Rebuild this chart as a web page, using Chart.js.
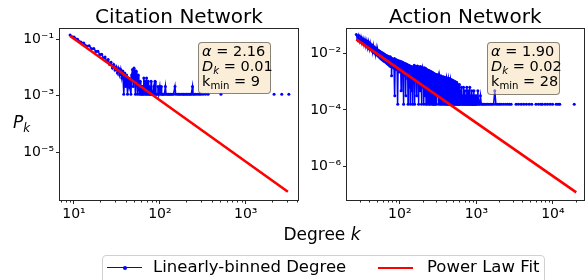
<!DOCTYPE html>
<html><head><meta charset="utf-8">
<script src="https://cdn.jsdelivr.net/npm/chart.js@4/dist/chart.umd.min.js"></script>
<style>
html,body{margin:0;padding:0;background:#fff;}
body{width:585px;height:280px;position:relative;overflow:hidden;font-family:"DejaVu Sans",sans-serif;color:#000;}
canvas{position:absolute;top:0;}
#c1{left:0;} #c2{left:300px;}
.box{position:absolute;background:rgba(245,222,179,0.5);border:1px solid rgba(0,0,0,0.45);border-radius:4px;font-size:14.5px;line-height:15px;padding:1px 3px;box-sizing:border-box;white-space:nowrap;}
.sb{font-size:70%;position:relative;top:0.3em;line-height:0;}
.lbl{position:absolute;white-space:nowrap;}
#legend{position:absolute;left:102px;top:255px;width:443px;height:40px;border:1px solid #d0d0d0;border-radius:4px;box-sizing:border-box;background:#fff;}
.hl{position:absolute;height:0;}
</style></head>
<body>
<canvas id="c1" width="300" height="225"></canvas>
<canvas id="c2" width="285" height="225"></canvas>
<div class="lbl" style="left:13px;top:112px;font-size:17px;line-height:20px;"><i>P</i><span class="sb"><i>k</i></span></div>
<div class="lbl" style="left:222px;width:200px;text-align:center;top:224px;font-size:17px;line-height:20px;">Degree <i>k</i></div>
<div class="box" style="left:198px;top:42px;width:73px;height:52px;">
<div><i>α</i> = 2.16</div>
<div><i>D</i><span class="sb"><i>k</i></span> = 0.01</div>
<div>k<span class="sb">min</span> = 9</div>
</div>
<div class="box" style="left:487px;top:42px;width:73px;height:53px;">
<div><i>α</i> = 1.90</div>
<div><i>D</i><span class="sb"><i>k</i></span> = 0.02</div>
<div>k<span class="sb">min</span> = 28</div>
</div>
<div id="legend"></div>
<div class="hl" style="left:107px;top:267px;width:35px;border-top:1.5px solid #0000ff;"></div>
<div style="position:absolute;left:123px;top:266px;width:4px;height:4px;border-radius:2px;background:#0000ff;"></div>
<div class="lbl" style="left:153px;top:257px;font-size:16.5px;line-height:20px;">Linearly-binned Degree</div>
<div class="hl" style="left:378px;top:267px;width:35px;border-top:2.6px solid #ff0000;"></div>
<div class="lbl" style="left:427px;top:257px;font-size:16.5px;line-height:20px;">Power Law Fit</div>
<script>
// ---- Citation Network data ----
const citK = [9,10,11,12,13,14,15,16,17,18,
19,20,21,22,23,24,25,26,27,28,
29,30,31,32,33,34,35,36,37,38,
39,40,41,42,43,44,45,46,47,48,
49,50,51,52,53,54,55,56,57,58,
59,60,61,62,63,64,65,66,67,68,
69,70,71,72,73,74,75,76,78,79,
80,82,83,85,86,88,90,91,93,95,
97,100,102,104,105,108,110,113,116,118,
121,125,128,132,135,140,144,150,153,160,
166,171,178,185,190,197,204,211,218,226,
232,240,243,251,262,275,288,300,318,340,
365,400,515,600,2140,2400,2630,2900,3180];
const citP = [0.138,0.118,0.098,0.078,0.072,0.056,0.058,0.045,0.046,0.036,
0.037,0.028,0.029,0.021,0.023,0.016,0.019,0.0125,0.0150,0.0095,
0.0125,0.0080,0.0105,0.0063,0.0092,0.0053,0.0084,0.0042,0.0074,0.0011,
0.0063,0.0021,0.0053,0.0011,0.0042,0.0021,0.0032,0.0011,0.0053,0.0084,
0.0021,0.0095,0.0032,0.0011,0.0074,0.0042,0.0011,0.0053,0.0021,0.0011,
0.0032,0.0011,0.0021,0.0011,0.0021,0.0011,0.0042,0.0011,0.0032,0.0021,
0.0011,0.0042,0.0011,0.0021,0.0032,0.0011,0.0021,0.0011,0.0011,0.0032,
0.0011,0.0011,0.0011,0.0021,0.0011,0.0032,0.0011,0.0011,0.0011,0.0021,
0.0011,0.0021,0.0011,0.0021,0.0011,0.0011,0.0011,0.0011,0.0021,0.0011,
0.0011,0.0011,0.0011,0.0011,0.0011,0.0011,0.0011,0.0021,0.0011,0.0011,
0.0011,0.0011,0.0011,0.0011,0.0011,0.0011,0.0011,0.0011,0.0011,0.0011,
0.0011,0.0021,0.0011,0.0011,0.0011,0.0011,0.0011,0.0011,0.0011,0.0011,
0.0011,null,0.0011,null,0.0011,null,0.0011,null,0.0011];
const citFitK = [9, 3100];
const citFitP = [0.128, 3.9e-7];

// ---- Action Network data (split by degree range) ----
const actK1 = [27,28,29,30,31,32,33,34,35,36,
37,38,39,40,41,42,43,44,45,46,
47,48,49,50,51,52,53,54,55,56,
57,58,59,60,61,62,63,64,65,66,
67,68,69,70,71,72,73,74,75,76,
77,78,79,80];
const actP1 = [0.046,0.030,0.043,0.026,0.038,0.023,0.033,0.020,0.030,0.018,
0.027,0.016,0.025,0.0145,0.022,0.013,0.020,0.0115,0.018,0.0105,
0.016,0.0095,0.0148,0.0088,0.0135,0.0080,0.0125,0.0072,0.0118,0.0066,
0.0110,0.0061,0.0104,0.0057,0.0098,0.0053,0.0093,0.0050,0.0088,0.0047,
0.0084,0.0044,0.0080,0.0041,0.0077,0.0039,0.0074,0.0036,0.0076,0.0034,
0.0068,0.0016,0.0066,0.0032];

const actK2 = [81,82,83,84,85,86,87,88,89,90,
91,92,93,94,95,96,97,98,99,100,
101,102,103,104,105,106,107,108,109,110,
111,112,113,114,115,116,117,118,119,120,
121,122,123,124,125,126,127,128,129,130,
131,132,133,134,135,136,137,138,139,140,
141,142,143,144,145,146,147,148,149,150];
const actP2 = [0.0062,0.0041,0.0058,0.0030,0.0066,0.00032,0.0050,0.0036,0.0061,0.0027,
0.0054,0.0040,0.0057,0.00016,0.0047,0.0030,0.0055,0.0022,0.0049,0.0035,
0.0052,0.0026,0.0045,0.00048,0.0050,0.0032,0.0043,0.0019,0.0048,0.0029,
0.0041,0.00016,0.0046,0.0024,0.0039,0.0033,0.0044,0.0016,0.0037,0.00032,
0.0042,0.0027,0.0035,0.0020,0.0040,0.0013,0.0034,0.00016,0.0038,0.0025,
0.0032,0.0017,0.0037,0.00064,0.0031,0.0022,0.0035,0.00016,0.0030,0.0019,
0.0034,0.0011,0.0029,0.00048,0.0033,0.0021,0.0028,0.00016,0.0032,0.0016];

const actK3 = [152,154,156,158,160,162,164,166,168,170,
172,174,176,178,180,182,184,186,188,190,
192,194,196,198,200,202,204,206,208,210,
212,214,216,218,220,222,224,226,228,230,
232,234,236,238,240,242,244,246,248,250,
252,254,256,258,260,262,264,266,268,270,
272,274,276,278,280,282,284,286,288,290,
292,294,296,298,300];
const actP3 = [0.0027,0.0038,0.00016,0.0031,0.0014,0.0035,0.0022,0.00032,0.0030,0.0036,
0.0011,0.0026,0.00016,0.0033,0.0019,0.0029,0.00048,0.0034,0.0024,0.0013,
0.00016,0.0028,0.0032,0.0017,0.00064,0.0030,0.0022,0.00016,0.0027,0.0031,
0.0012,0.00032,0.0025,0.0029,0.00016,0.0020,0.0027,0.00096,0.00016,0.0024,
0.0026,0.0014,0.00048,0.0023,0.0025,0.00016,0.0018,0.0024,0.0008,0.00016,
0.0021,0.0023,0.0011,0.00032,0.0020,0.0022,0.00016,0.0016,0.0021,0.00064,
0.00016,0.0019,0.0020,0.0010,0.00016,0.0018,0.0019,0.00048,0.0014,0.00016,
0.0017,0.0018,0.0008,0.00016,0.0016];

const actK4 = [304,308,312,316,320,324,328,332,336,340,
344,348,352,356,360,364,368,372,376,380,
384,388,392,396,400,404,408,412,416,420,
424,428,432,436,440,444,448,452,456,460,
464,468,472,476,480,484,488,492,496,500,
504,508,512,516,520,524,528,532,536,540,
544,548,552,556,560,564,568,572,576,580,
584,588,592,596,600];
const actP4 = [0.0018,0.00032,0.0015,0.0017,0.00016,0.0012,0.0016,0.00064,0.00016,0.0015,
0.0016,0.00016,0.0011,0.0015,0.00048,0.00016,0.0014,0.0015,0.00096,0.00016,
0.0013,0.0014,0.00032,0.00016,0.0012,0.0014,0.0008,0.00016,0.0013,0.00016,
0.0011,0.0013,0.00048,0.00016,0.0012,0.0013,0.00016,0.00096,0.0012,0.00032,
0.00016,0.0011,0.0012,0.00016,0.0008,0.0011,0.00048,0.00016,0.0010,0.0011,
0.00016,0.00064,0.0010,0.00032,0.00016,0.00096,0.0010,0.00016,0.00048,0.00096,
0.00016,0.0008,0.00096,0.00016,0.00032,0.00064,0.00016,0.0008,0.00016,0.00048,
0.00064,0.00016,0.00032,0.00016,0.0008];

const actK5 = [610,620,630,640,650,660,670,680,690,700,
710,720,730,740,750,760,770,780,790,800,
810,820,830,840,850,860,870,880,890,900,
910,920,930,940,950,960,970,980,990,1000];
const actP5 = [0.00016,0.00048,0.00016,0.00064,0.00016,0.00032,0.00016,0.00064,0.00016,0.00016,
0.00048,0.00016,0.00032,0.00016,0.00064,0.00016,0.00016,0.00048,0.00016,0.00032,
0.00016,0.00064,0.00016,0.00016,0.00032,0.00016,0.00048,0.00016,0.00016,0.00032,
0.00016,0.00016,0.00048,0.00016,0.00016,0.00032,0.00016,0.00016,0.00016,0.00032];

const actK6 = [1022,1045,1070,1100,1130,1160,1200,1240,1290,
1340,1400,1460,1530,1600,1680,1740,1800,1900,2000,
2100,2250,2400,2550,2700,2850,3050,3300,3550,3850,
4150,4500,4900,5300,5700,6000,6500,7000,7300,7600,
7900,8500,9200,9900,10400,11000,11700,12300,15000,19000];
const actP6 = [0.00016,0.00048,0.00016,0.00016,0.00032,0.00016,0.00016,0.00016,0.00016,
0.00016,0.00016,0.00016,0.00016,0.00016,0.00016,0.00048,0.00016,0.00016,0.00016,
0.00016,0.00016,0.00016,0.00016,0.00016,0.00016,null,0.00016,0.00016,0.00016,
0.00016,0.00016,0.00016,0.00016,null,0.00016,0.00016,0.00016,0.00016,null,
0.00016,0.00016,0.00016,0.00016,null,0.00016,0.00016,0.00016,null,0.00016];

const actK = [].concat(actK1, actK2, actK3, actK4, actK5, actK6);
const actP = [].concat(actP1, actP2, actP3, actP4, actP5, actP6);
const actFitK = [27, 20200];
const actFitP = [0.031, 1.24e-7];

// ---- ticks ----
const citXTicks = [10, 100, 1000];
const citXLabels = ['10¹', '10²', '10³'];
const citYTicks = [1e-1, 1e-3, 1e-5];
const citYLabels = ['10⁻¹', '10⁻³', '10⁻⁵'];
const actXTicks = [100, 1000, 10000];
const actXLabels = ['10²', '10³', '10⁴'];
const actYTicks = [1e-2, 1e-4, 1e-6];
const actYLabels = ['10⁻²', '10⁻⁴', '10⁻⁶'];

Chart.defaults.font.family = 'DejaVu Sans';
Chart.defaults.color = '#000';

const framePlugin = {
  id: 'frame',
  afterDraw(chart, args, opts) {
    const {ctx, chartArea: a, scales} = chart;
    ctx.save();
    ctx.strokeStyle = '#262626';
    ctx.lineWidth = 1;
    ctx.strokeRect(Math.round(a.left) - 0.5, Math.round(a.top) - 0.5,
      Math.round(a.right - a.left) + 1, Math.round(a.bottom - a.top) + 1);
    const x = scales.x;
    const lo = Math.floor(Math.log10(x.min)), hi = Math.ceil(Math.log10(x.max));
    ctx.beginPath();
    for (let d = lo; d <= hi; d++) {
      for (let m = 2; m <= 9; m++) {
        const v = m * Math.pow(10, d);
        if (v < x.min || v > x.max) continue;
        const px = Math.round(x.getPixelForValue(v)) + 0.5;
        ctx.moveTo(px, a.bottom + 0.5);
        ctx.lineTo(px, a.bottom + 2.5);
      }
    }
    ctx.stroke();
    ctx.fillStyle = '#000';
    ctx.font = '20px "DejaVu Sans"';
    ctx.textAlign = 'center';
    ctx.textBaseline = 'alphabetic';
    ctx.fillText(opts.text, (a.left + a.right) / 2, 23);
    ctx.restore();
  }
};

function pts(ks, ps) { return ks.map((k, i) => ({x: k, y: ps[i]})); }

function makeChart(id, title, ks, ps, fk, fp, xr, yr, xt, xl, yt, yl, yW, padR) {
  const gridOpts = {display: true, drawOnChartArea: false, drawTicks: true, tickLength: 4,
                    color: '#262626', tickColor: '#262626', lineWidth: 1};
  return new Chart(document.getElementById(id), {
    type: 'line',
    data: {datasets: [
      {label: 'Linearly-binned Degree', data: pts(ks, ps), borderColor: '#0000ff',
       backgroundColor: '#0000ff', borderWidth: 1.5, pointRadius: 1.5, pointHoverRadius: 1.5,
       pointBorderWidth: 0, spanGaps: false, tension: 0, order: 2},
      {label: 'Power Law Fit', data: pts(fk, fp), borderColor: '#ff0000', borderWidth: 2.6,
       pointRadius: 0, tension: 0, order: 1}
    ]},
    options: {
      responsive: false, animation: false, devicePixelRatio: 1,
      events: [],
      layout: {padding: {left: 0, right: padR, top: 29, bottom: 0}},
      plugins: {
        legend: {display: false}, tooltip: {enabled: false}, title: {display: false},
        frame: {text: title}
      },
      scales: {
        x: {type: 'logarithmic', min: xr[0], max: xr[1],
            afterFit: s => { s.height = 25; },
            afterBuildTicks: s => { s.ticks = xt.map(v => ({value: v})); },
            ticks: {color: '#000', font: {size: 14}, padding: 2, maxRotation: 0, minRotation: 0,
                    autoSkip: false, callback: (v, i) => xl[i]},
            grid: gridOpts, border: {display: false}},
        y: {type: 'logarithmic', min: yr[0], max: yr[1],
            afterFit: s => { s.width = yW; },
            afterBuildTicks: s => { s.ticks = yt.map(v => ({value: v})); },
            ticks: {color: '#000', font: {size: 14}, padding: 2, autoSkip: false,
                    callback: (v, i) => yl[i]},
            grid: gridOpts, border: {display: false}}
      }
    },
    plugins: [framePlugin]
  });
}

makeChart('c1', 'Citation Network', citK, citP, citFitK, citFitP,
  [6.87, 4065], [2.0e-7, 0.226], citXTicks, citXLabels, citYTicks, citYLabels, 60, 2);
makeChart('c2', 'Action Network', actK, actP, actFitK, actFitP,
  [20.4, 25100], [6.65e-8, 0.0722], actXTicks, actXLabels, actYTicks, actYLabels, 47, 1);
</script>
</body></html>
